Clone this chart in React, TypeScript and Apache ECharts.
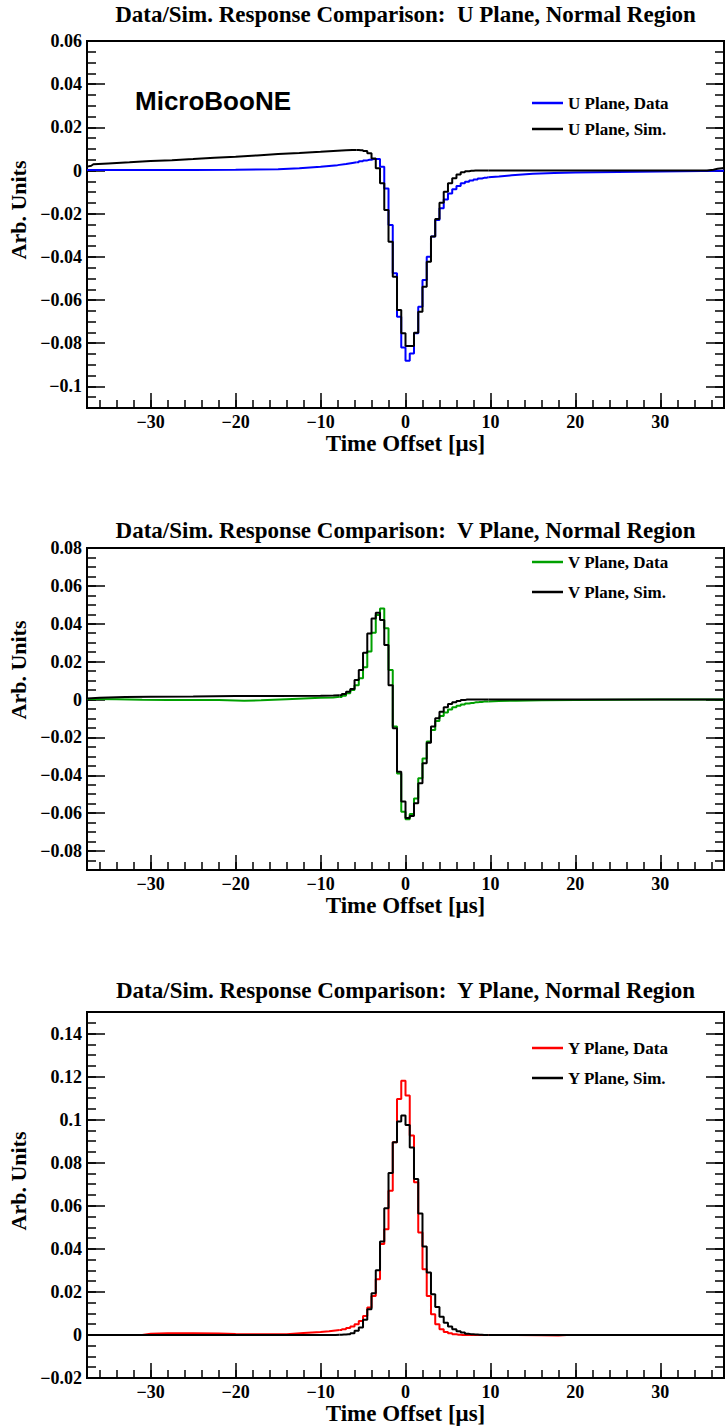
import React, { useEffect, useRef } from "react";
import * as echarts from "echarts";

// ---------- axes ----------
const X_MIN = -37.5;
const X_MAX = 37.5;
const BIN = 0.5;
const xMajorTicks = [-30, -20, -10, 0, 10, 20, 30];
const uYTicks = [-0.1, -0.08, -0.06, -0.04, -0.02, 0, 0.02, 0.04, 0.06];
const vYTicks = [-0.08, -0.06, -0.04, -0.02, 0, 0.02, 0.04, 0.06, 0.08];
const yYTicks = [-0.02, 0, 0.02, 0.04, 0.06, 0.08, 0.1, 0.12, 0.14];

const titles = [
  "Data/Sim. Response Comparison:  U Plane, Normal Region",
  "Data/Sim. Response Comparison:  V Plane, Normal Region",
  "Data/Sim. Response Comparison:  Y Plane, Normal Region",
];
const legendNames = [
  ["U Plane, Data", "U Plane, Sim."],
  ["V Plane, Data", "V Plane, Sim."],
  ["Y Plane, Data", "Y Plane, Sim."],
];

// ---------- U plane (bins of 0.5 us, centres from uCoreStart) ----------
const uCoreStart = -5.75;
const uDataCore = [0.0038, 0.0043, 0.0047, 0.005, 0.0053, 0.0053, 0.0018, -0.0083, -0.0252, -0.0476, -0.0677, -0.082, -0.0881, -0.0847, -0.0754, -0.0631, -0.0507, -0.0399, -0.0306, -0.0229, -0.0175, -0.0134, -0.0106, -0.0087, -0.0072, -0.0059, -0.0052, -0.0046, -0.0041, -0.0037, -0.0034, -0.0031];
const uSimCore = [0.0095, 0.0094, 0.009, 0.008, 0.0056, 0.001, -0.0059, -0.0183, -0.033, -0.0492, -0.0646, -0.0754, -0.0813, -0.0813, -0.0751, -0.0654, -0.0538, -0.0422, -0.0306, -0.0225, -0.0149, -0.0098, -0.0059, -0.0036, -0.0018, -0.0008, -0.0003, -0.0001, 0, 0, 0, 0];
const uDataLeft = [[-37.5, 0.0002], [-30, 0.0002], [-25, 0.0003], [-20, 0.0004], [-15, 0.0006], [-12.5, 0.001], [-10, 0.0017], [-8, 0.0025], [-7, 0.003], [-6.25, 0.0035], [-5.75, 0.0038]];
const uDataRight = [[9.75, -0.0031], [11, -0.0028], [12.5, -0.0022], [15, -0.0015], [17.5, -0.0011], [20, -0.0009], [25, -0.0007], [30, -0.0005], [35, -0.0002], [37.5, -0.0001]];
const uSimLeft = [[-37.5, 0.0018], [-37, 0.0022], [-36.75, 0.0029], [-35, 0.0033], [-32.5, 0.0038], [-30, 0.0044], [-27.5, 0.0048], [-25, 0.0053], [-22.5, 0.0059], [-20, 0.0064], [-17.5, 0.007], [-15, 0.0076], [-12.5, 0.0081], [-10, 0.0087], [-8, 0.0092], [-7, 0.0094], [-6.25, 0.0095], [-5.75, 0.0095]];
const uSimRight = [[9.75, 0], [20, 0], [30, 0], [35.5, 0], [36.25, 0.0004], [36.75, 0.0008], [37.5, 0.0012]];

// ---------- V plane ----------
const vCoreStart = -7.75;
const vDataCore = [0.0014, 0.002, 0.0033, 0.005, 0.0076, 0.0112, 0.017, 0.0253, 0.0353, 0.0446, 0.0481, 0.0376, 0.0156, -0.0143, -0.039, -0.0592, -0.0632, -0.0605, -0.0522, -0.0416, -0.0311, -0.0222, -0.0161, -0.0114, -0.0087, -0.0068, -0.0052, -0.0041, -0.0033, -0.0026, -0.0021, -0.0018, -0.0015, -0.0013, -0.0011, -0.001];
const vSimCore = [0.0022, 0.0029, 0.0041, 0.0055, 0.0103, 0.0156, 0.0247, 0.0349, 0.0428, 0.0458, 0.042, 0.0288, 0.0076, -0.0152, -0.0381, -0.0539, -0.0625, -0.0615, -0.0548, -0.0442, -0.0337, -0.0228, -0.0143, -0.0099, -0.0064, -0.0041, -0.0024, -0.0015, -0.0008, -0.0003, 0, 0, 0, 0, 0, 0];
const vDataLeft = [[-37.5, 0.0003], [-34, 0.0002], [-31, -0.0001], [-28, -0.0003], [-22, -0.0003], [-19, -0.0006], [-17, -0.0004], [-14, 0.0002], [-12, 0.0006], [-10, 0.0009], [-8.5, 0.0011], [-7.75, 0.0014]];
const vDataRight = [[9.75, -0.001], [11, -0.0008], [13, -0.0006], [16, -0.0004], [20, -0.0002], [25, -0.0001], [30, 0], [37.5, 0]];
const vSimLeft = [[-37.5, 0.0006], [-36, 0.0009], [-33, 0.0013], [-30, 0.0015], [-25, 0.0016], [-20, 0.0018], [-15, 0.0019], [-10, 0.002], [-8.5, 0.0021], [-7.75, 0.0022]];
const vSimRight = [[9.75, 0], [37.5, 0]];

// ---------- Y plane ----------
const yCoreStart = -7.75;
const yDataCore = [0.0023, 0.0027, 0.0032, 0.0039, 0.005, 0.0065, 0.0088, 0.0127, 0.0181, 0.0259, 0.0422, 0.0491, 0.067, 0.0895, 0.1096, 0.1181, 0.1112, 0.0926, 0.0709, 0.0476, 0.0305, 0.0181, 0.0096, 0.005, 0.0026, 0.0014, 0.0008, 0.0003, 0.0001, 0, 0, 0, 0, 0, 0, 0];
const ySimCore = [0.0001, 0.0002, 0.0003, 0.0008, 0.0019, 0.0034, 0.007, 0.0119, 0.0194, 0.0301, 0.0434, 0.0588, 0.0752, 0.0895, 0.0991, 0.1019, 0.0975, 0.0871, 0.0724, 0.0564, 0.0411, 0.029, 0.0189, 0.013, 0.0085, 0.0057, 0.0039, 0.0026, 0.0017, 0.0011, 0.0005, 0.0003, 0.0002, 0.0001, 0, 0];
const yDataLeft = [[-37.5, 0], [-31, 0], [-30, 0.0006], [-28, 0.0008], [-25, 0.0008], [-22, 0.0007], [-20, 0.0004], [-17, 0.0003], [-14, 0.0003], [-12, 0.0009], [-10, 0.0014], [-9, 0.0017], [-8.25, 0.0021], [-7.75, 0.0023]];
const yDataRight = [[9.75, 0], [13, 0], [16, -0.0002], [18, -0.0003], [19, 0], [37.5, 0]];
const ySimLeft = [[-37.5, 0], [-8.25, 0], [-7.75, 0.0001]];
const ySimRight = [[9.75, 0], [37.5, 0]];

const SERIF = "'Liberation Serif', 'Times New Roman', serif";
const SANS = "'Liberation Sans', Arial, sans-serif";

const panels = [
  { top: 41, height: 367, yMin: -0.11, yMax: 0.06, yTicks: uYTicks, color: "#0000ff",
    coreStart: uCoreStart, dataCore: uDataCore, simCore: uSimCore,
    dataLeft: uDataLeft, dataRight: uDataRight, simLeft: uSimLeft, simRight: uSimRight,
    titleY: 14, legendY: 102, legendStep: 26, yTitleY: 210 },
  { top: 548, height: 322, yMin: -0.09, yMax: 0.08, yTicks: vYTicks, color: "#00a000",
    coreStart: vCoreStart, dataCore: vDataCore, simCore: vSimCore,
    dataLeft: vDataLeft, dataRight: vDataRight, simLeft: vSimLeft, simRight: vSimRight,
    titleY: 530, legendY: 561, legendStep: 30, yTitleY: 670 },
  { top: 1012, height: 366, yMin: -0.02, yMax: 0.15, yTicks: yYTicks, color: "#ff0000",
    coreStart: yCoreStart, dataCore: yDataCore, simCore: ySimCore,
    dataLeft: yDataLeft, dataRight: yDataRight, simLeft: ySimLeft, simRight: ySimRight,
    titleY: 990, legendY: 1047, legendStep: 30, yTitleY: 1181 },
];

const fmt = (v: number) => String(Math.round(v * 1000) / 1000).replace("-", "\u2212");

function minorValues(min: number, max: number, step: number) {
  const out: number[] = [];
  const k0 = Math.ceil(min / step - 1e-9);
  for (let k = k0; k * step <= max + 1e-9; k++) out.push(Math.round(k * step * 10000) / 10000);
  return out;
}

function binned(start: number, values: number[]) {
  return values.map((v, i) => [start + i * BIN, v]);
}

function buildOption() {
  const grid: any[] = [];
  const xAxis: any[] = [];
  const yAxis: any[] = [];
  const series: any[] = [];
  const legend: any[] = [];
  const graphic: any[] = [];
  const xMinor = minorValues(X_MIN, X_MAX, 2);
  const tickLine = { color: "#000", width: 1.5 };

  panels.forEach((p, i) => {
    grid.push({ left: 87, top: p.top, width: 637, height: p.height, show: true, borderColor: "#000", borderWidth: 2, backgroundColor: "transparent" });
    const baseX = { gridIndex: i, type: "value", min: X_MIN, max: X_MAX, position: "bottom", axisLine: { show: false, onZero: false }, splitLine: { show: false } };
    xAxis.push({
      ...baseX,
      axisTick: { show: true, inside: true, length: 15, customValues: xMajorTicks, lineStyle: tickLine },
      axisLabel: { show: true, customValues: xMajorTicks, formatter: fmt, margin: 5, fontFamily: SERIF, fontWeight: "bold", fontSize: 18, color: "#000" },
      name: "Time Offset [\u03bcs]", nameLocation: "middle", nameGap: 22,
      nameTextStyle: { fontFamily: SERIF, fontWeight: "bold", fontSize: 23, color: "#000" },
    });
    xAxis.push({
      ...baseX,
      axisTick: { show: true, inside: true, length: 8, customValues: xMinor, lineStyle: tickLine },
      axisLabel: { show: false },
    });
    const yMinor = minorValues(p.yMin, p.yMax, 0.005);
    const baseY = { gridIndex: i, type: "value", min: p.yMin, max: p.yMax, axisLine: { show: false, onZero: false }, splitLine: { show: false } };
    yAxis.push({
      ...baseY, position: "left",
      axisTick: { show: true, inside: true, length: 18, customValues: p.yTicks, lineStyle: tickLine },
      axisLabel: { show: true, customValues: p.yTicks, formatter: fmt, margin: 5, fontFamily: SERIF, fontWeight: "bold", fontSize: 18, color: "#000" },
    });
    yAxis.push({ ...baseY, position: "left", axisTick: { show: true, inside: true, length: 9, customValues: yMinor, lineStyle: tickLine }, axisLabel: { show: false } });
    yAxis.push({ ...baseY, position: "right", axisTick: { show: true, inside: true, length: 18, customValues: p.yTicks, lineStyle: tickLine }, axisLabel: { show: false } });
    yAxis.push({ ...baseY, position: "right", axisTick: { show: true, inside: true, length: 9, customValues: yMinor, lineStyle: tickLine }, axisLabel: { show: false } });

    const [dataName, simName] = legendNames[i];
    const common = { type: "line", xAxisIndex: 2 * i, yAxisIndex: 4 * i, symbol: "none", showSymbol: false, silent: true, clip: true };
    const mk = (name: string, color: string, data: number[][], step: any, z: number) => ({
      ...common, name, color, data, step, z, lineStyle: { color, width: 2 }, itemStyle: { color },
    });
    series.push(mk(dataName, p.color, p.dataLeft, false, 2));
    series.push(mk(dataName, p.color, binned(p.coreStart, p.dataCore), "middle", 2));
    series.push(mk(dataName, p.color, p.dataRight, false, 2));
    series.push(mk(simName, "#000000", p.simLeft, false, 3));
    series.push(mk(simName, "#000000", binned(p.coreStart, p.simCore), "middle", 3));
    series.push(mk(simName, "#000000", p.simRight, false, 3));

    legend.push({
      data: [dataName, simName], orient: "vertical", left: 527, top: p.legendY - 12.5,
      icon: "rect", itemWidth: 31, itemHeight: 2.5, itemGap: p.legendStep - 17, selectedMode: false,
      textStyle: { fontFamily: SERIF, fontWeight: "bold", fontSize: 17, color: "#000", lineHeight: 17 },
    });

    graphic.push({
      type: "text", x: 405.5, y: p.titleY, silent: true,
      style: { text: titles[i], fill: "#000", font: `bold 23px ${SERIF}`, align: "center", verticalAlign: "middle", textAlign: "center", textVerticalAlign: "middle" },
    });
    graphic.push({
      type: "text", x: 18, y: p.yTitleY, rotation: Math.PI / 2, silent: true,
      style: { text: "Arb. Units", fill: "#000", font: `bold 22px ${SERIF}`, align: "center", verticalAlign: "middle", textAlign: "center", textVerticalAlign: "middle" },
    });
  });

  graphic.push({
    type: "text", x: 135, y: 101, silent: true,
    style: { text: "MicroBooNE", fill: "#000", font: `bold 26px ${SANS}`, align: "left", verticalAlign: "middle", textAlign: "left", textVerticalAlign: "middle" },
  });

  return { animation: false, backgroundColor: "#ffffff", grid, xAxis, yAxis, series, legend, graphic, tooltip: { show: false } };
}

export default function App() {
  const ref = useRef<HTMLDivElement>(null);
  useEffect(() => {
    if (!ref.current) return;
    const chart = echarts.init(ref.current, undefined, { renderer: "svg" });
    chart.setOption(buildOption() as any);
    return () => chart.dispose();
  }, []);
  return <div ref={ref} style={{ position: "absolute", left: 0, top: 0, width: 725, height: 1428 }} />;
}
